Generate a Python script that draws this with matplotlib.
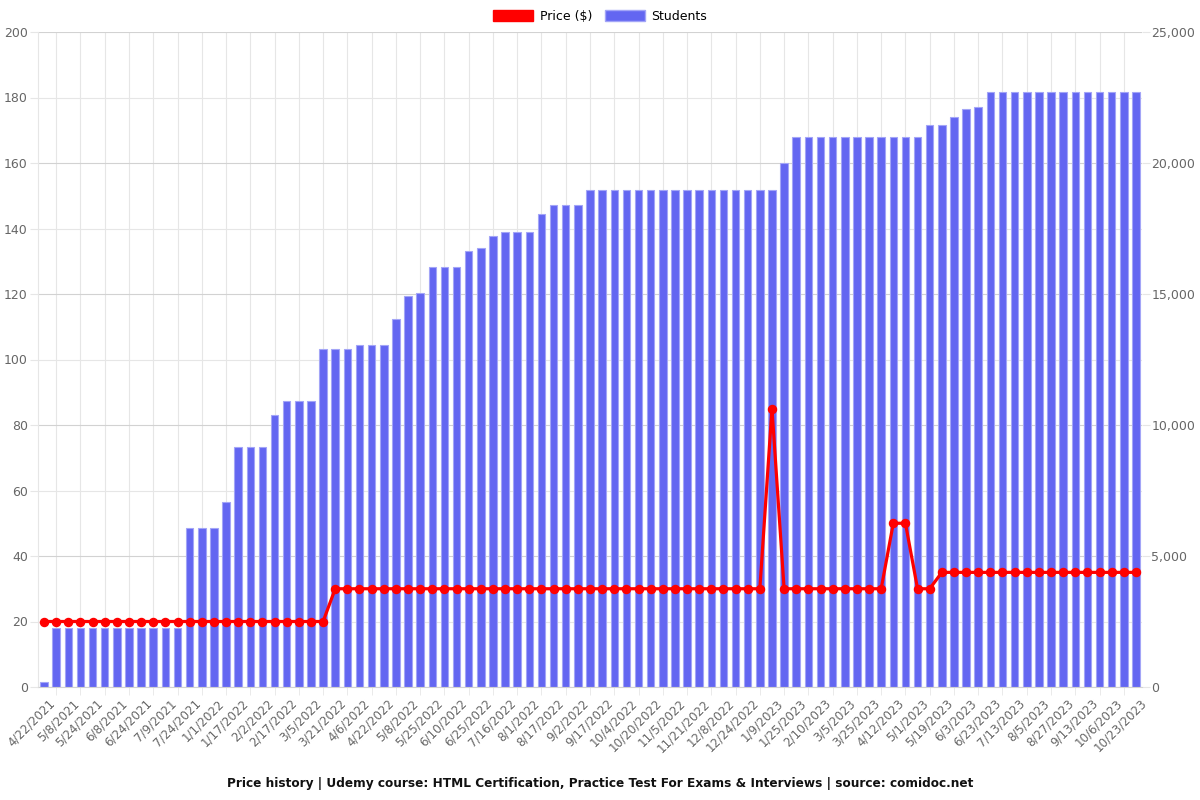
import matplotlib
matplotlib.use("Agg")
import matplotlib.pyplot as plt
import matplotlib.transforms as mtransforms
from matplotlib.patches import Patch
from matplotlib.ticker import FuncFormatter

# ---- data ----
tick_labels = ["4/22/2021", "5/8/2021", "5/24/2021", "6/8/2021", "6/24/2021", "7/9/2021",
               "7/24/2021", "1/1/2022", "1/17/2022", "2/2/2022", "2/17/2022", "3/5/2022",
               "3/21/2022", "4/6/2022", "4/22/2022", "5/8/2022", "5/25/2022", "6/10/2022",
               "6/25/2022", "7/16/2022", "8/1/2022", "8/17/2022", "9/2/2022", "9/17/2022",
               "10/4/2022", "10/20/2022", "11/5/2022", "11/21/2022", "12/8/2022", "12/24/2022",
               "1/9/2023", "1/25/2023", "2/10/2023", "3/5/2023", "3/25/2023", "4/12/2023",
               "5/1/2023", "5/19/2023", "6/3/2023", "6/23/2023", "7/13/2023", "8/5/2023",
               "8/27/2023", "9/13/2023", "10/6/2023", "10/23/2023"]

students = [180,
            2260, 2260, 2260, 2260, 2260, 2260, 2260, 2260, 2260, 2260, 2260,
            6050, 6050, 6080, 7050,
            9160, 9160, 9160, 10400,
            10920, 10920, 10920,
            12910, 12910, 12910,
            13040, 13040, 13040,
            14030, 14920, 15030,
            16020, 16020, 16020, 16650, 16740, 17220,
            17380, 17380, 17380, 18060,
            18400, 18400, 18400,
            18970, 18970, 18970, 18970, 18970, 18970, 18970, 18970,
            18970, 18970, 18970, 18970, 18970, 18970, 18970, 18970,
            19990,
            20980, 20980, 20980, 20980, 20980, 20980, 20980, 20980, 20980, 20980, 20980,
            21450, 21450, 21740, 22070, 22140,
            22710, 22710, 22710, 22710, 22710, 22710, 22710, 22710, 22710, 22710, 22710,
            22710, 22710]

price = [20, 20, 20, 20, 20, 20, 20, 20, 20, 20, 20, 20,
         20, 20, 20, 20, 20, 20, 20, 20, 20, 20, 20, 20,
         30, 30, 30, 30, 30, 30, 30, 30, 30, 30, 30, 30,
         30, 30, 30, 30, 30, 30, 30, 30, 30, 30, 30, 30,
         30, 30, 30, 30, 30, 30, 30, 30, 30, 30, 30, 30,
         85,
         30, 30, 30, 30, 30, 30, 30, 30, 30,
         50, 50,
         30, 30,
         35, 35, 35, 35, 35, 35, 35, 35, 35, 35, 35, 35, 35, 35, 35, 35, 35]

title = "Price history | Udemy course: HTML Certification, Practice Test For Exams & Interviews | source: comidoc.net"

# ---- styling ----
BAR = "#6366f1"
BAR_EDGE = "#a3a5f7"
RED = "#ff0000"
GRID = "#e6e6e6"
GRID_DARK = "#d2d2d2"
TXT = "#666666"

plt.rcParams["font.family"] = ["DejaVu Sans"]

fig = plt.figure(figsize=(12, 8), dpi=100)
ax = fig.add_axes([38 / 1200, 1 - 687 / 800, (1142 - 38) / 1200, (687 - 32) / 800])
ax2 = ax.twinx()

n = len(students)
x = list(range(n))

# bars on students axis (ticks on right)
ax.bar(x, students, width=0.62, color=BAR, edgecolor=BAR_EDGE, linewidth=0.8, zorder=2)
ax.set_ylim(0, 25000)
ax.set_xlim(-0.5, n - 0.5)
ax.yaxis.tick_right()
ax.set_yticks(range(0, 25001, 5000))
ax.set_yticks(range(0, 25001, 2500), minor=True)
ax.yaxis.set_major_formatter(FuncFormatter(lambda v, p: f"{int(v):,}"))
ax.tick_params(axis="y", which="major", labelsize=9, labelcolor=TXT, length=5.8,
               color=GRID, pad=1.0, right=True, left=False)
ax.tick_params(axis="y", which="minor", length=0, right=False, left=False)
ax.grid(axis="y", which="minor", color=GRID, linewidth=0.8, alpha=1)
ax.grid(axis="y", which="major", color=GRID_DARK, linewidth=0.8, alpha=1)

# x ticks: labels at even positions, grid/tick marks at odd positions
ax.set_xticks(list(range(0, n, 2)))
ax.set_xticklabels(tick_labels, rotation=45, ha="right", rotation_mode="anchor")
ax.set_xticks(list(range(1, n, 2)), minor=True)
ax.tick_params(axis="x", which="major", length=0, labelsize=8.6, labelcolor=TXT, pad=7)
ax.tick_params(axis="x", which="minor", length=5.8, color=GRID)
ax.grid(axis="x", which="minor", color=GRID, linewidth=0.8, alpha=1)
ax.grid(axis="x", which="major", visible=False)
ax.set_axisbelow(True)
shift = mtransforms.ScaledTranslation(4 / 100, 0, fig.dpi_scale_trans)
for lab in ax.get_xticklabels():
    lab.set_transform(lab.get_transform() + shift)

for s in ["top", "right"]:
    ax.spines[s].set_visible(False)
ax.spines["left"].set_color(GRID)
ax.spines["bottom"].set_color(GRID_DARK)

# price line on the left axis
ax2.plot(x, price, color=RED, linewidth=2.3, marker="o", markersize=5.8, zorder=5)
ax2.set_ylim(0, 200)
ax2.yaxis.tick_left()
ax2.set_yticks(range(0, 201, 20))
ax2.tick_params(axis="y", labelsize=9, labelcolor=TXT, length=5.8, color=GRID, pad=1.5,
                left=True, right=False)
for s in ["top", "right", "left", "bottom"]:
    ax2.spines[s].set_visible(False)

# legend at top
handles = [Patch(facecolor=RED, edgecolor=RED, label="Price ($)"),
           Patch(facecolor=BAR, edgecolor=BAR_EDGE, label="Students")]
fig.legend(handles=handles, loc="center", bbox_to_anchor=(0.5, 1 - 16 / 800), ncol=2,
           frameon=False, fontsize=9, handlelength=3.2, handleheight=1.0,
           columnspacing=1.0, handletextpad=0.5)

fig.text(0.5, 1 - 783 / 800, title, ha="center", va="center", fontsize=8.7,
         fontweight="bold", color="#111111")

fig.savefig("out.png", dpi=100)
